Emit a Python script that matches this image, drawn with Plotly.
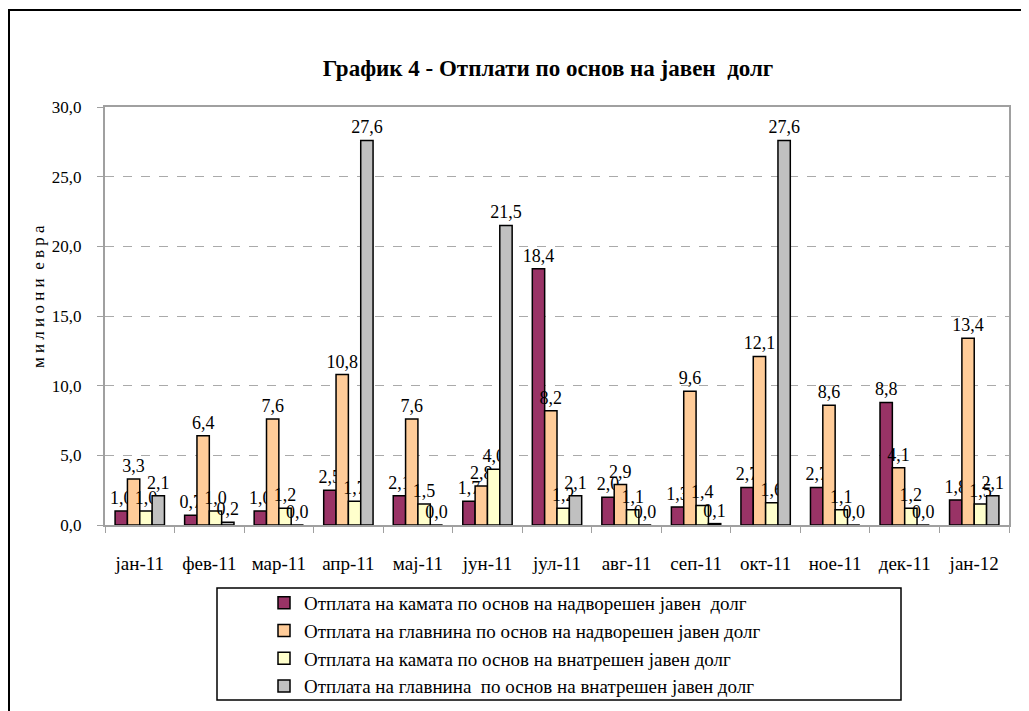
import plotly.graph_objects as go

months = ["јан-11", "фев-11", "мар-11", "апр-11", "мај-11", "јун-11", "јул-11",
          "авг-11", "сеп-11", "окт-11", "ное-11", "дек-11", "јан-12"]

ext_interest = [1.0, 0.7, 1.0, 2.5, 2.1, 1.7, 18.4, 2.0, 1.3, 2.7, 2.7, 8.8, 1.8]
ext_principal = [3.3, 6.4, 7.6, 10.8, 7.6, 2.8, 8.2, 2.9, 9.6, 12.1, 8.6, 4.1, 13.4]
dom_interest = [1.0, 1.0, 1.2, 1.7, 1.5, 4.0, 1.2, 1.1, 1.4, 1.6, 1.1, 1.2, 1.5]
dom_principal = [2.1, 0.2, 0.0, 27.6, 0.0, 21.5, 2.1, 0.0, 0.1, 27.6, 0.0, 0.0, 2.1]

names = [
    "Отплата на камата по основ на надворешен јавен  долг",
    "Отплата на главнина по основ на надворешен јавен долг",
    "Отплата на камата по основ на внатрешен јавен долг",
    "Отплата на главнина  по основ на внатрешен јавен долг",
]
series = [ext_interest, ext_principal, dom_interest, dom_principal]
colors = ["#993366", "#FFCC99", "#FFFFCC", "#C0C0C0"]

FONT = "Liberation Serif"

fig = go.Figure()
for name, vals, col in zip(names, series, colors):
    fig.add_trace(go.Bar(
        x=months, y=vals, name=name,
        marker=dict(color=col, line=dict(color="#000000", width=1.5)),
        texttemplate="%{y:.1f}", textposition="outside",
        constraintext="none", cliponaxis=False,
        textfont=dict(family=FONT, size=18, color="#000000"),
    ))

# page body has an 8px margin: work in screen pixels and convert
OFF = 8
W, H = 1029 - OFF, 760 - OFF               # taller than the window; the excess is off-screen
L, R, T, B = 105, 1009, 107, 525          # plot area in screen pixels
pw, ph = R - L, B - T


def px(x):
    return (x - L) / pw


def py(y):
    return (B - y) / ph


fig.update_layout(
    width=W, height=H,
    margin=dict(l=L - OFF, r=W - (R - OFF), t=T - OFF, b=H - (B - OFF), pad=0),
    paper_bgcolor="white", plot_bgcolor="white",
    separators=",.",
    barmode="group", bargap=0.29, bargroupgap=0,
    font=dict(family=FONT, size=19, color="#000000"),
    title=dict(text="<b>График 4 - Отплати по основ на јавен  долг</b>",
               x=(548 - OFF) / W, xanchor="center", y=1 - (68 - OFF) / H, yanchor="middle",
               font=dict(family=FONT, size=23, color="#000000")),
    showlegend=True,
    legend=dict(x=px(264), y=py(584), xanchor="left", yanchor="top",
                bgcolor="rgba(0,0,0,0)", borderwidth=0,
                font=dict(family=FONT, size=19, color="#000000"),
                tracegroupgap=0, itemwidth=30),
    xaxis=dict(showline=True, linecolor="#A0A0A0", linewidth=2, mirror=True,
               ticks="outside", tickson="boundaries", ticklen=6, tickcolor="#A0A0A0",
               ticklabelstandoff=20,
               tickfont=dict(family=FONT, size=19), showgrid=False),
    yaxis=dict(range=[0, 30], dtick=5, tickformat=".1f",
               showline=True, linecolor="#A0A0A0", linewidth=2, mirror=True,
               ticks="outside", ticklen=6, tickcolor="#A0A0A0",
               ticklabelstandoff=12,
               showgrid=True, gridcolor="#AAAAAA", griddash="dash", gridwidth=1,
               zeroline=False, tickfont=dict(family=FONT, size=17)),
)

fig.add_annotation(text="м и л и о н и  е в р а", textangle=-90,
                   x=px(38), y=py(297), xref="paper", yref="paper",
                   xanchor="center", yanchor="middle",
                   showarrow=False, font=dict(family=FONT, size=17))

# legend box
fig.add_shape(type="rect", xref="paper", yref="paper",
              x0=px(217), x1=px(901), y0=py(700), y1=py(588),
              line=dict(color="#000000", width=1.5), fillcolor="rgba(0,0,0,0)")
# outer chart frame
fig.add_shape(type="rect", xref="paper", yref="paper",
              x0=px(9), x1=px(1060), y0=py(750), y1=py(10),
              line=dict(color="#000000", width=2), fillcolor="rgba(0,0,0,0)")

fig.write_html("out.html")
